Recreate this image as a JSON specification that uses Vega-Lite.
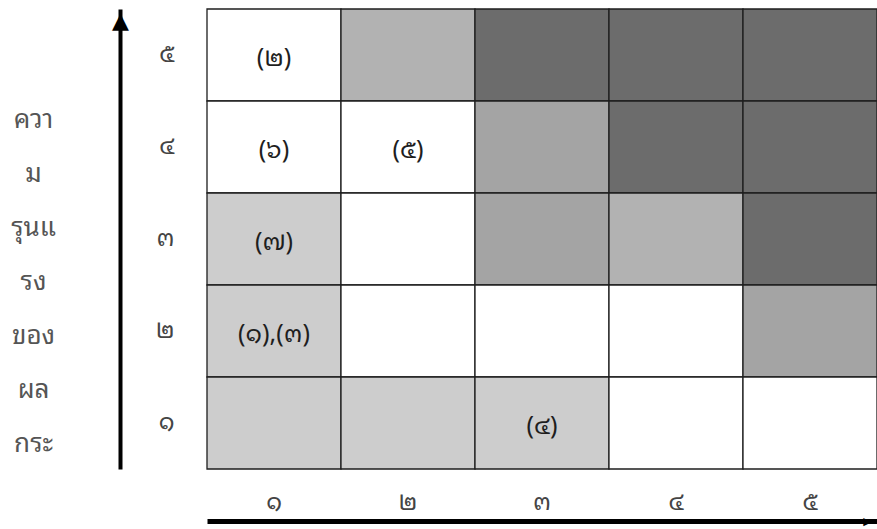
{
  "$schema": "https://vega.github.io/schema/vega-lite/v6.json",
  "width": 670,
  "height": 460,
  "autosize": {"type": "none"},
  "padding": {"left": 207, "top": 9, "right": 0, "bottom": 60},
  "background": "white",
  "config": {
    "view": {"stroke": null},
    "font": "Noto Sans Thai Looped, Noto Sans Thai, Noto Sans, DejaVu Sans, sans-serif",
    "axis": {"grid": false}
  },
  "data": {
    "values": [
      {"likelihood": "๑", "impact": "๕", "level": 0, "label": "(๒)"},
      {"likelihood": "๒", "impact": "๕", "level": 2, "label": ""},
      {"likelihood": "๓", "impact": "๕", "level": 4, "label": ""},
      {"likelihood": "๔", "impact": "๕", "level": 4, "label": ""},
      {"likelihood": "๕", "impact": "๕", "level": 4, "label": ""},
      {"likelihood": "๑", "impact": "๔", "level": 0, "label": "(๖)"},
      {"likelihood": "๒", "impact": "๔", "level": 0, "label": "(๕)"},
      {"likelihood": "๓", "impact": "๔", "level": 3, "label": ""},
      {"likelihood": "๔", "impact": "๔", "level": 4, "label": ""},
      {"likelihood": "๕", "impact": "๔", "level": 4, "label": ""},
      {"likelihood": "๑", "impact": "๓", "level": 1, "label": "(๗)"},
      {"likelihood": "๒", "impact": "๓", "level": 0, "label": ""},
      {"likelihood": "๓", "impact": "๓", "level": 3, "label": ""},
      {"likelihood": "๔", "impact": "๓", "level": 2, "label": ""},
      {"likelihood": "๕", "impact": "๓", "level": 4, "label": ""},
      {"likelihood": "๑", "impact": "๒", "level": 1, "label": "(๑),(๓)"},
      {"likelihood": "๒", "impact": "๒", "level": 0, "label": ""},
      {"likelihood": "๓", "impact": "๒", "level": 0, "label": ""},
      {"likelihood": "๔", "impact": "๒", "level": 0, "label": ""},
      {"likelihood": "๕", "impact": "๒", "level": 3, "label": ""},
      {"likelihood": "๑", "impact": "๑", "level": 1, "label": ""},
      {"likelihood": "๒", "impact": "๑", "level": 1, "label": ""},
      {"likelihood": "๓", "impact": "๑", "level": 1, "label": "(๔)"},
      {"likelihood": "๔", "impact": "๑", "level": 0, "label": ""},
      {"likelihood": "๕", "impact": "๑", "level": 0, "label": ""}
    ]
  },
  "layer": [
    {
      "mark": {"type": "rect", "stroke": "#1e1e1e", "strokeWidth": 1.3},
      "encoding": {
        "x": {
          "field": "likelihood", "type": "ordinal",
          "sort": ["๑", "๒", "๓", "๔", "๕"],
          "scale": {"paddingInner": 0, "paddingOuter": 0},
          "axis": {
            "orient": "bottom", "domain": false, "ticks": false, "labelAngle": 0,
            "labelPadding": 21, "labelFontSize": 24, "labelColor": "#444",
            "title": null
          }
        },
        "y": {
          "field": "impact", "type": "ordinal",
          "sort": ["๕", "๔", "๓", "๒", "๑"],
          "scale": {"paddingInner": 0, "paddingOuter": 0},
          "axis": {
            "orient": "left", "domain": false, "ticks": false,
            "labelPadding": 33, "labelFontSize": 24, "labelColor": "#444",
            "title": ["ควา", "ม", "รุนแ", "รง", "ของ", "ผล", "กระ"],
            "titleAngle": 0, "titleFontSize": 26, "titleFontWeight": "normal",
            "titleColor": "#555", "titleLineHeight": 54,
            "titleX": -174, "titleY": 118, "titleAlign": "center", "titleBaseline": "alphabetic"
          }
        },
        "color": {
          "field": "level", "type": "ordinal",
          "scale": {"domain": [0, 1, 2, 3, 4], "range": ["#ffffff", "#cdcdcd", "#b2b2b2", "#a4a4a4", "#6c6c6c"]},
          "legend": null
        }
      }
    },
    {
      "mark": {"type": "text", "fontSize": 25, "color": "#1e1e1e", "dy": 3},
      "encoding": {
        "x": {
          "field": "likelihood", "type": "ordinal",
          "sort": ["๑", "๒", "๓", "๔", "๕"],
          "axis": {
            "orient": "bottom", "offset": 52, "domain": true, "domainWidth": 5,
            "domainColor": "#000", "labels": false, "ticks": false,
            "title": "▶", "titleFontSize": 11, "titleColor": "#000",
            "titleX": 660, "titleY": 0, "titleBaseline": "middle", "titleAlign": "center"
          }
        },
        "y": {
          "field": "impact", "type": "ordinal",
          "sort": ["๕", "๔", "๓", "๒", "๑"],
          "axis": {
            "orient": "left", "offset": 87, "domain": true, "domainWidth": 4,
            "domainColor": "#000", "labels": false, "ticks": false,
            "title": "▲", "titleAngle": 0, "titleFontSize": 22, "titleColor": "#000",
            "titleX": 0, "titleY": 11, "titleBaseline": "middle", "titleAlign": "center"
          }
        },
        "text": {"field": "label"}
      }
    }
  ],
  "resolve": {"axis": {"x": "independent", "y": "independent"}}
}
